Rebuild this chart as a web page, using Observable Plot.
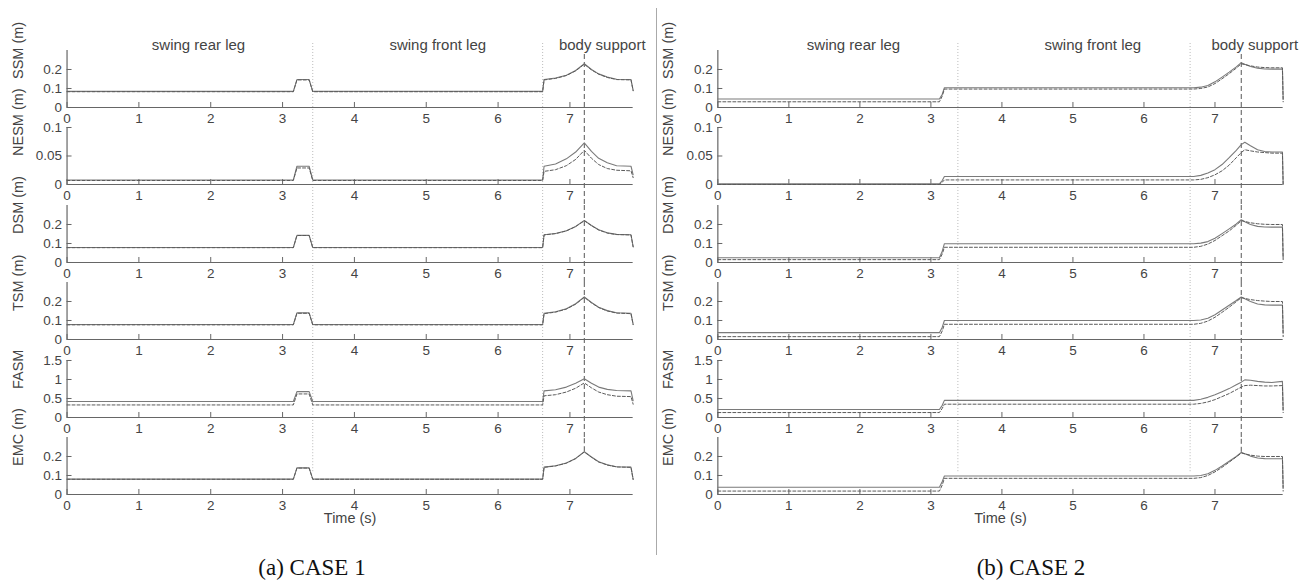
<!DOCTYPE html>
<html><head><meta charset="utf-8">
<script src="https://cdn.jsdelivr.net/npm/d3@7"></script>
<script src="https://cdn.jsdelivr.net/npm/@observablehq/plot@0.6"></script>
<style>
 html,body{margin:0;padding:0;background:#fff;}
 #fig{position:relative;width:1316px;height:583px;overflow:hidden;background:#fff;font-family:"Liberation Sans",Arial,sans-serif;}
 .sub{position:absolute;width:658px;}
 .divider{position:absolute;left:656px;top:8px;width:1px;height:547px;background:#aaa;}
 .caption{position:absolute;top:555px;font-family:"Liberation Serif","Times New Roman",serif;font-size:23px;color:#111;transform:translateX(-50%);white-space:nowrap;line-height:26px;}
</style></head><body><div id="fig"></div>
<script>
// ---------------- data ----------------
const metrics = ["SSM", "NESM", "DSM", "TSM", "FASM", "EMC"];
const yLabels = ["SSM (m)", "NESM (m)", "DSM (m)", "TSM (m)", "FASM", "EMC (m)"];
const yMax = [0.3, 0.1, 0.3, 0.3, 1.5, 0.3];
const yTicks = [[0, 0.1, 0.2], [0, 0.05, 0.1], [0, 0.1, 0.2], [0, 0.1, 0.2], [0, 0.5, 1, 1.5], [0, 0.1, 0.2]];
const xTicks = [0, 1, 2, 3, 4, 5, 6, 7];
const xLabel = "Time (s)";
const phaseLabels = ["swing rear leg", "swing front leg", "body support"];
const captions = ["(a) CASE 1", "(b) CASE 2"];

// CASE 1
const c1Time = [0, 3.15, 3.2, 3.37, 3.42, 6.62, 6.64, 6.8, 6.95, 7.08, 7.2, 7.3, 7.4, 7.52, 7.65, 7.85, 7.88];
const c1SSM_a  = [0.085, 0.085, 0.147, 0.147, 0.085, 0.085, 0.147, 0.155, 0.17, 0.195, 0.23, 0.2, 0.177, 0.16, 0.149, 0.147, 0.09];
const c1SSM_b  = [0.083, 0.083, 0.145, 0.145, 0.083, 0.083, 0.145, 0.153, 0.168, 0.193, 0.228, 0.198, 0.175, 0.158, 0.147, 0.145, 0.088];
const c1NESM_a = [0.008, 0.008, 0.032, 0.032, 0.008, 0.008, 0.032, 0.036, 0.045, 0.057, 0.073, 0.058, 0.046, 0.038, 0.033, 0.032, 0.017];
const c1NESM_b = [0.007, 0.007, 0.029, 0.029, 0.007, 0.007, 0.023, 0.026, 0.033, 0.044, 0.06, 0.046, 0.035, 0.028, 0.025, 0.024, 0.012];
const c1DSM_a  = [0.079, 0.079, 0.143, 0.143, 0.079, 0.079, 0.146, 0.153, 0.167, 0.19, 0.221, 0.195, 0.172, 0.156, 0.148, 0.146, 0.083];
const c1DSM_b  = [0.078, 0.078, 0.142, 0.142, 0.078, 0.078, 0.145, 0.152, 0.166, 0.189, 0.22, 0.194, 0.171, 0.155, 0.147, 0.145, 0.082];
const c1TSM_a  = [0.079, 0.079, 0.14, 0.14, 0.079, 0.079, 0.138, 0.146, 0.162, 0.188, 0.224, 0.195, 0.17, 0.152, 0.141, 0.138, 0.08];
const c1TSM_b  = [0.077, 0.077, 0.138, 0.138, 0.077, 0.077, 0.136, 0.144, 0.16, 0.186, 0.222, 0.193, 0.168, 0.15, 0.139, 0.136, 0.078];
const c1FASM_a = [0.42, 0.42, 0.68, 0.68, 0.42, 0.42, 0.7, 0.73, 0.8, 0.9, 1.02, 0.9, 0.8, 0.74, 0.71, 0.7, 0.44];
const c1FASM_b = [0.33, 0.33, 0.62, 0.62, 0.33, 0.33, 0.57, 0.6, 0.67, 0.77, 0.91, 0.78, 0.67, 0.6, 0.56, 0.55, 0.35];
const c1EMC_a  = [0.081, 0.081, 0.14, 0.14, 0.081, 0.081, 0.144, 0.151, 0.166, 0.19, 0.225, 0.197, 0.172, 0.156, 0.146, 0.144, 0.08];
const c1EMC_b  = [0.08, 0.08, 0.139, 0.139, 0.08, 0.08, 0.143, 0.15, 0.165, 0.189, 0.224, 0.196, 0.171, 0.155, 0.145, 0.143, 0.079];
const c1PhaseBounds = [3.42, 6.62];
const c1PeakTime = 7.2;
const c1EndTime = 7.88;
const c1PhaseLabelTimes = [1.83, 5.16, 7.45];

// CASE 2
const c2Time = [0, 3.12, 3.16, 3.19, 6.7, 6.8, 6.9, 7.0, 7.1, 7.2, 7.3, 7.37, 7.42, 7.5, 7.6, 7.7, 7.8, 7.95, 7.96];
const c2SSM_a  = [0.045, 0.045, 0.07, 0.104, 0.104, 0.107, 0.116, 0.135, 0.16, 0.186, 0.214, 0.236, 0.228, 0.216, 0.207, 0.203, 0.202, 0.202, 0.045];
const c2SSM_b  = [0.03, 0.03, 0.06, 0.097, 0.097, 0.1, 0.108, 0.126, 0.151, 0.178, 0.207, 0.23, 0.226, 0.219, 0.213, 0.21, 0.209, 0.209, 0.03];
const c2NESM_a = [0.001, 0.001, 0.007, 0.014, 0.014, 0.016, 0.02, 0.026, 0.035, 0.047, 0.06, 0.07, 0.074, 0.068, 0.061, 0.058, 0.057, 0.057, 0.001];
const c2NESM_b = [0, 0, 0.004, 0.008, 0.008, 0.009, 0.012, 0.017, 0.024, 0.034, 0.047, 0.056, 0.061, 0.059, 0.057, 0.056, 0.055, 0.055, 0];
const c2DSM_a  = [0.025, 0.025, 0.06, 0.099, 0.099, 0.102, 0.11, 0.128, 0.152, 0.177, 0.203, 0.225, 0.215, 0.2, 0.19, 0.187, 0.186, 0.186, 0.025];
const c2DSM_b  = [0.015, 0.015, 0.045, 0.08, 0.08, 0.085, 0.097, 0.116, 0.141, 0.166, 0.196, 0.22, 0.216, 0.209, 0.204, 0.201, 0.2, 0.2, 0.015];
const c2TSM_a  = [0.036, 0.036, 0.065, 0.1, 0.1, 0.103, 0.112, 0.13, 0.155, 0.18, 0.205, 0.224, 0.215, 0.2, 0.187, 0.182, 0.181, 0.181, 0.036];
const c2TSM_b  = [0.015, 0.015, 0.045, 0.08, 0.08, 0.085, 0.097, 0.117, 0.143, 0.17, 0.199, 0.22, 0.216, 0.21, 0.205, 0.202, 0.2, 0.2, 0.015];
const c2FASM_a = [0.21, 0.21, 0.32, 0.45, 0.45, 0.48, 0.53, 0.6, 0.68, 0.76, 0.86, 0.93, 0.99, 0.98, 0.95, 0.93, 0.92, 0.95, 0.21];
const c2FASM_b = [0.13, 0.13, 0.24, 0.35, 0.35, 0.37, 0.41, 0.47, 0.55, 0.63, 0.73, 0.8, 0.84, 0.85, 0.84, 0.83, 0.83, 0.84, 0.13];
const c2EMC_a  = [0.038, 0.038, 0.068, 0.097, 0.097, 0.1, 0.109, 0.127, 0.15, 0.175, 0.2, 0.222, 0.215, 0.202, 0.192, 0.189, 0.188, 0.188, 0.038];
const c2EMC_b  = [0.018, 0.018, 0.05, 0.085, 0.085, 0.089, 0.1, 0.119, 0.143, 0.17, 0.198, 0.218, 0.214, 0.207, 0.202, 0.2, 0.2, 0.2, 0.018];
const c2PhaseBounds = [3.38, 6.65];
const c2PeakTime = 7.37;
const c2EndTime = 7.96;
const c2PhaseLabelTimes = [1.91, 5.28, 7.56];

// ---------------- layout ----------------
const FIRST_TOP = 50, PITCH = 77.45, AXIS_H = 57;
const GAP = PITCH - AXIS_H;
const panels = [
  {left: 0, marginLeft: 66.5, right: 632.7, time: c1Time,
   series: [[c1SSM_a, c1SSM_b], [c1NESM_a, c1NESM_b], [c1DSM_a, c1DSM_b], [c1TSM_a, c1TSM_b], [c1FASM_a, c1FASM_b], [c1EMC_a, c1EMC_b]],
   bounds: c1PhaseBounds, peak: c1PeakTime, end: c1EndTime, labelTimes: c1PhaseLabelTimes, caption: captions[0], captionX: 312},
  {left: 658, marginLeft: 59.3, right: 624.7, time: c2Time,
   series: [[c2SSM_a, c2SSM_b], [c2NESM_a, c2NESM_b], [c2DSM_a, c2DSM_b], [c2TSM_a, c2TSM_b], [c2FASM_a, c2FASM_b], [c2EMC_a, c2EMC_b]],
   bounds: c2PhaseBounds, peak: c2PeakTime, end: c2EndTime, labelTimes: c2PhaseLabelTimes, caption: captions[1], captionX: 1031}
];

const fig = document.getElementById("fig");
const fmt = d => String(d);
const TEXT = "#444", AXIS = "#666";

function subplot(p, k) {
  const [a, b] = p.series[k];
  const rows = p.time.map((t, i) => ({t, a: a[i], b: b[i]}));
  const first = k === 0, last = k === metrics.length - 1;
  const marks = [];
  if (!last) {
    marks.push(Plot.ruleX(p.bounds, {stroke: "#aaa", strokeWidth: 0.8, strokeDasharray: "1,2", insetTop: first ? -7 : 0, insetBottom: -GAP}));
    marks.push(Plot.ruleX([p.peak], {stroke: "#555", strokeWidth: 1, strokeDasharray: "5,3", insetTop: first ? 4 : 0, insetBottom: -GAP}));
  } else {
    marks.push(Plot.ruleX(p.bounds, {y1: 0.12, y2: yMax[k], stroke: "#aaa", strokeWidth: 0.8, strokeDasharray: "1,2"}));
    marks.push(Plot.ruleX([p.peak], {y1: d3.max(a), y2: yMax[k], stroke: "#555", strokeWidth: 1, strokeDasharray: "5,3"}));
  }
  marks.push(
    Plot.ruleY([0], {stroke: AXIS, strokeWidth: 1.2}),
    Plot.ruleX([0], {stroke: AXIS, strokeWidth: 1.2}),
    Plot.axisX(xTicks, {tickSize: -5, tickPadding: 11, tickFormat: fmt, label: null, stroke: AXIS, fill: TEXT}),
    Plot.axisY(yTicks[k], {tickSize: -5, tickPadding: 10, tickFormat: fmt, label: null, stroke: AXIS, fill: TEXT}),
    Plot.line(rows, {x: "t", y: "a", stroke: "#7a7a7a", strokeWidth: 1.1}),
    Plot.line(rows, {x: "t", y: "b", stroke: "#5a5a5a", strokeWidth: 1, strokeDasharray: "3,2"}),
    Plot.text([yLabels[k]], {frameAnchor: "left", dx: -49, rotate: -90, fill: TEXT, fontSize: 14.5})
  );
  if (first) marks.push(Plot.text(phaseLabels, {x: p.labelTimes, frameAnchor: "top", dy: -11, fill: TEXT, fontSize: 15}));
  if (last) marks.push(Plot.text([xLabel], {frameAnchor: "bottom", dy: 29, fill: TEXT, fontSize: 14.5}));

  const chart = Plot.plot({
    width: 658,
    height: AXIS_H + GAP,
    marginTop: 0,
    marginBottom: GAP,
    marginLeft: p.marginLeft,
    marginRight: 658 - p.right,
    x: {domain: [0, p.end]},
    y: {domain: [0, yMax[k]]},
    style: {background: "transparent", overflow: "visible", fontFamily: "'Liberation Sans', Arial, sans-serif", fontSize: "13.5px", color: TEXT},
    marks
  });
  const div = document.createElement("div");
  div.className = "sub";
  div.style.left = p.left + "px";
  div.style.top = (FIRST_TOP + k * PITCH) + "px";
  div.appendChild(chart);
  fig.appendChild(div);
}

panels.forEach(p => {
  metrics.forEach((m, k) => subplot(p, k));
  const cap = document.createElement("div");
  cap.className = "caption";
  cap.style.left = p.captionX + "px";
  cap.textContent = p.caption;
  fig.appendChild(cap);
});
const dv = document.createElement("div");
dv.className = "divider";
fig.appendChild(dv);
</script>
</body></html>
